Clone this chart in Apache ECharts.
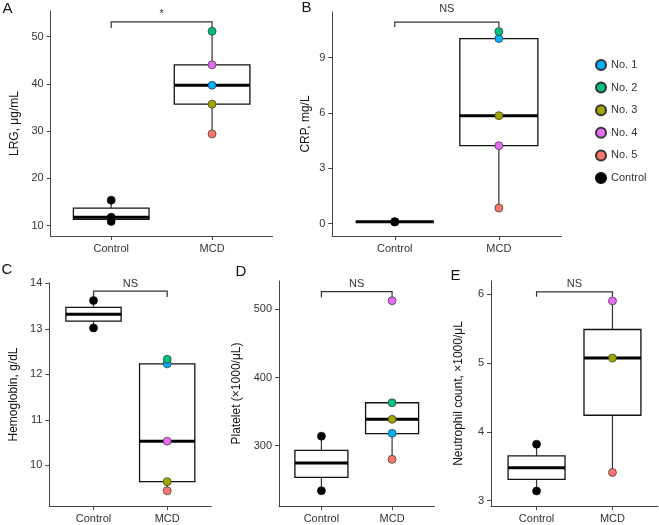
<!DOCTYPE html>
<html><head><meta charset="utf-8">
<script src="https://cdn.jsdelivr.net/npm/echarts@6/dist/echarts.min.js"></script>
<style>html,body{margin:0;padding:0;background:#fff}#c{width:659px;height:525px}</style>
</head><body><div id="c"></div>
<script>
// ---------- data ----------
const categories = ['Control', 'MCD'];
const groups = ['No. 1', 'No. 2', 'No. 3', 'No. 4', 'No. 5'];
const groupColors = ['#00B0F6', '#00BF7D', '#A3A500', '#E76BF3', '#F8766D'];

// A: LRG
const lrgTitle = 'LRG, μg/mL';
const lrgControl = [15.4, 11.8, 10.9];
const lrgMCD = [39.7, 51.1, 35.7, 44.0, 29.4];          // No.1..No.5
const lrgBoxControl = [10.9, 11.35, 11.8, 13.7, 15.4];  // low, q1, median, q3, high
const lrgBoxMCD = [29.4, 35.7, 39.7, 44.0, 51.1];
const lrgTicks = [10, 20, 30, 40, 50];
const lrgRange = [7.82, 55.39];
const lrgBracket = [53.1, 51.8];
const lrgSig = '*';

// B: CRP
const crpTitle = 'CRP, mg/L';
const crpControl = [0.1, 0.1, 0.1];
const crpMCD = [10.04, 10.42, 5.86, 4.23, 0.85];
const crpBoxControl = [0.1, 0.1, 0.1, 0.1, 0.1];
const crpBoxMCD = [0.85, 4.23, 5.86, 10.04, 10.42];
const crpTicks = [0, 3, 6, 9];
const crpRange = [-0.667, 11.48];
const crpBracket = [10.93, 10.66];
const crpSig = 'NS';

// C: Hemoglobin
const hbTitle = 'Hemoglobin, g/dL';
const hbControl = [13.62, 13.02];
const hbMCD = [12.23, 12.33, 9.64, 10.53, 9.44];
const hbBoxControl = [13.02, 13.17, 13.32, 13.47, 13.62];
const hbBoxMCD = [9.44, 9.64, 10.53, 12.23, 12.33];
const hbTicks = [10, 11, 12, 13, 14];
const hbRange = [9.105, 14.007];
const hbBracket = [13.83, 13.70];
const hbSig = 'NS';

// D: Platelet
const pltTitle = 'Platelet (×1000/μL)';
const pltControl = [314, 234];
const pltMCD = [318.2, 363, 338.7, 512.6, 280];
const pltBoxControl = [234, 253.7, 274.6, 293.2, 314];
const pltBoxMCD = [280, 317.6, 338.7, 363, 363];
const pltTicks = [300, 400, 500];
const pltRange = [211.6, 541.5];
const pltBracket = [525.8, 517.6];
const pltSig = 'NS';

// E: Neutrophil
const neuTitle = 'Neutrophil count, ×1000/μL';
const neuControl = [3.82, 3.14];
const neuMCD = [null, null, 5.07, 5.90, 3.41];
const neuBoxControl = [3.14, 3.31, 3.48, 3.65, 3.82];
const neuBoxMCD = [3.41, 4.24, 5.07, 5.485, 5.90];
const neuTicks = [3, 4, 5, 6];
const neuRange = [2.923, 6.189];
const neuBracket = [6.03, 5.96];
const neuSig = 'NS';

const panelLetters = ['A', 'B', 'C', 'D', 'E'];

// ---------- layout / style ----------
const layout = [
  { left: 50.7, top: 11, width: 221.9, height: 225, nameGap: 30.5, letter: [2.5, 8.7], sigGap: 4 },
  { left: 332.3, top: 12, width: 229, height: 224, nameGap: 20.5, letter: [301.5, 8.3], sigGap: 9.6 },
  { left: 49.3, top: 283, width: 162.1, height: 223, nameGap: 29.5, letter: [1.5, 270], sigGap: 4 },
  { left: 279, top: 281, width: 155.5, height: 225, nameGap: 36.3, letter: [235.5, 272.3], sigGap: 4.5 },
  { left: 491, top: 281, width: 167, height: 225, nameGap: 26, letter: [450.5, 275.5], sigGap: 4.5 }
];

const panels = [
  { title: lrgTitle, ctrl: lrgControl, mcd: lrgMCD, boxes: [lrgBoxControl, lrgBoxMCD], ticks: lrgTicks, range: lrgRange, bracket: lrgBracket, sig: lrgSig },
  { title: crpTitle, ctrl: crpControl, mcd: crpMCD, boxes: [crpBoxControl, crpBoxMCD], ticks: crpTicks, range: crpRange, bracket: crpBracket, sig: crpSig },
  { title: hbTitle, ctrl: hbControl, mcd: hbMCD, boxes: [hbBoxControl, hbBoxMCD], ticks: hbTicks, range: hbRange, bracket: hbBracket, sig: hbSig },
  { title: pltTitle, ctrl: pltControl, mcd: pltMCD, boxes: [pltBoxControl, pltBoxMCD], ticks: pltTicks, range: pltRange, bracket: pltBracket, sig: pltSig },
  { title: neuTitle, ctrl: neuControl, mcd: neuMCD, boxes: [neuBoxControl, neuBoxMCD], ticks: neuTicks, range: neuRange, bracket: neuBracket, sig: neuSig }
];

const FONT = 'Liberation Sans, Arial, Helvetica, sans-serif';
const AXIS_COLOR = '#444';
const LABEL_COLOR = '#333';
const BOX_HALF = 0.375;

function renderBox(params, api) {
  const x = api.value(0);
  const lo = api.value(1), q1 = api.value(2), med = api.value(3), q3 = api.value(4), hi = api.value(5);
  const pLo = api.coord([x, lo]), pQ1 = api.coord([x, q1]), pQ3 = api.coord([x, q3]), pHi = api.coord([x, hi]);
  const tl = api.coord([x - BOX_HALF, q3]), br = api.coord([x + BOX_HALF, q1]);
  const ml = api.coord([x - BOX_HALF, med]), mr = api.coord([x + BOX_HALF, med]);
  const ws = { stroke: '#333', lineWidth: 1.2 };
  return {
    type: 'group',
    children: [
      { type: 'line', shape: { x1: pQ3[0], y1: pQ3[1], x2: pHi[0], y2: pHi[1] }, style: ws },
      { type: 'line', shape: { x1: pLo[0], y1: pLo[1], x2: pQ1[0], y2: pQ1[1] }, style: ws },
      { type: 'rect', shape: { x: tl[0], y: tl[1], width: br[0] - tl[0], height: br[1] - tl[1] }, style: { fill: '#fff', stroke: '#111', lineWidth: 1.3 } },
      { type: 'line', shape: { x1: ml[0], y1: ml[1], x2: mr[0], y2: mr[1] }, style: { stroke: '#000', lineWidth: 3 } }
    ]
  };
}

function makeBracketRenderer(label, gap) {
  return function (params, api) {
    const yTop = api.value(0), yEnd = api.value(1);
    const a = api.coord([1, yEnd]), b = api.coord([1, yTop]), c = api.coord([2, yTop]), d = api.coord([2, yEnd]);
    const mid = api.coord([1.5, yTop]);
    return {
      type: 'group',
      children: [
        { type: 'polyline', shape: { points: [a, b, c, d] }, style: { stroke: '#333', lineWidth: 1.2, fill: null } },
        { type: 'text', style: { text: label, x: mid[0], y: mid[1] - gap + 2, align: 'center', verticalAlign: 'bottom', fontSize: 11, fontFamily: FONT, fill: LABEL_COLOR } }
      ]
    };
  };
}

const grid = [], xAxis = [], yAxis = [], series = [], graphic = [];

panels.forEach((p, i) => {
  const L = layout[i];
  grid.push({ left: L.left, top: L.top, width: L.width, height: L.height, containLabel: false, outerBoundsMode: 'none' });
  xAxis.push({
    type: 'value', gridIndex: i, min: 0.4, max: 2.6,
    axisLine: { show: true, onZero: false, lineStyle: { color: AXIS_COLOR, width: 1 } },
    axisTick: { show: true, customValues: [1, 2], length: 4, lineStyle: { color: AXIS_COLOR } },
    axisLabel: { show: true, customValues: [1, 2], formatter: v => categories[Math.round(v) - 1], margin: 7, fontSize: 11, fontFamily: FONT, color: LABEL_COLOR },
    splitLine: { show: false }
  });
  yAxis.push({
    type: 'value', gridIndex: i, min: p.range[0], max: p.range[1],
    name: p.title, nameLocation: 'middle', nameGap: L.nameGap,
    nameTextStyle: { fontSize: 12, fontFamily: FONT, color: '#111' },
    axisLine: { show: true, onZero: false, lineStyle: { color: AXIS_COLOR, width: 1 } },
    axisTick: { show: true, customValues: p.ticks, length: 4, lineStyle: { color: AXIS_COLOR } },
    axisLabel: { show: true, customValues: p.ticks, margin: 7, fontSize: 11, fontFamily: FONT, color: LABEL_COLOR },
    splitLine: { show: false }
  });
  // boxes
  series.push({
    type: 'custom', xAxisIndex: i, yAxisIndex: i, z: 2, silent: true,
    renderItem: renderBox,
    encode: { x: 0, y: [1, 2, 3, 4, 5] },
    data: p.boxes.map((b, k) => [k + 1].concat(b))
  });
  // bracket
  series.push({
    type: 'custom', xAxisIndex: i, yAxisIndex: i, z: 2, silent: true,
    renderItem: makeBracketRenderer(p.sig, L.sigGap),
    encode: { y: [0, 1] },
    data: [p.bracket]
  });
  // control points
  series.push({
    type: 'scatter', name: 'Control', xAxisIndex: i, yAxisIndex: i, z: 3,
    symbolSize: 8, itemStyle: { color: '#000', borderColor: '#000', borderWidth: 0.6, opacity: 1 },
    data: p.ctrl.map(v => [1, v])
  });
  // MCD points
  groups.forEach((g, k) => {
    const v = p.mcd[k];
    if (v === null || v === undefined) return;
    series.push({
      type: 'scatter', name: g, xAxisIndex: i, yAxisIndex: i, z: 4,
      symbolSize: 8, itemStyle: { color: groupColors[k], borderColor: '#333', borderWidth: 0.7, opacity: 1 },
      data: [[2, v]]
    });
  });
  graphic.push({
    type: 'text', x: L.letter[0], y: L.letter[1],
    style: { text: panelLetters[i], fontSize: 15, fontFamily: FONT, fill: '#111', align: 'left', verticalAlign: 'middle' }
  });
});

const chart = echarts.init(document.getElementById('c'), null, { renderer: 'canvas' });
chart.setOption({
  animation: false,
  backgroundColor: '#fff',
  textStyle: { fontFamily: FONT },
  grid, xAxis, yAxis, series, graphic,
  legend: {
    orient: 'vertical', left: 590, top: 54,
    itemWidth: 10, itemHeight: 10, itemGap: 10.6, icon: 'circle',
    textStyle: { fontSize: 11, fontFamily: FONT, color: LABEL_COLOR },
    data: groups.concat(['Control'])
  }
});
</script>
</body></html>
